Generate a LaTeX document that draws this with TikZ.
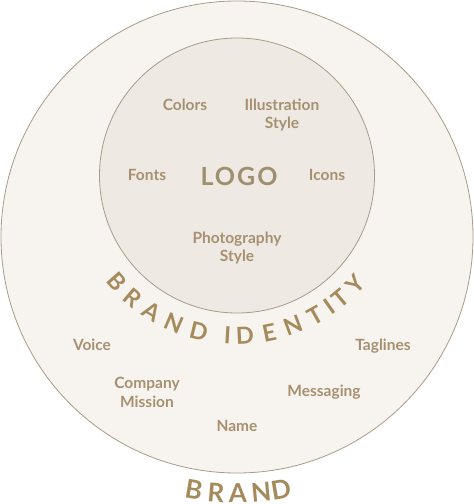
\documentclass[tikz,border=0pt]{standalone}
\usepackage{fontspec}
\setmainfont{Lato}
\usetikzlibrary{calc}
\definecolor{outerfill}{HTML}{F7F4EF}
\definecolor{innerfill}{HTML}{EEEAE3}
\definecolor{ring}{HTML}{A89B87}
\definecolor{labelc}{HTML}{A69070}
\definecolor{logoc}{HTML}{9E8F6E}
\definecolor{arcc}{HTML}{A58B5C}
\begin{document}
\begin{tikzpicture}[x=1pt,y=1pt,
  lbl/.style={text=labelc, font=\fontsize{15.5}{18.5}\selectfont\bfseries, inner sep=0pt, align=center, anchor=base},
  arcl/.style={text=arcc, font=\fontsize{23.5}{24}\selectfont\bfseries, inner sep=0pt, text height=16.8pt, text depth=0pt, anchor=center},
  brandl/.style={text=arcc, font=\fontsize{26}{26}\selectfont\bfseries, inner sep=0pt, text height=18.6pt, text depth=0pt, anchor=center},
  ringc/.style={circle, draw=ring, line width=0.8pt, inner sep=0pt}]
\useasboundingbox (0,0) rectangle (474,-504);
\fill[white] (0,0) rectangle (474,-504);
\coordinate (oc) at (237,-237);
\coordinate (ic) at (237,-175.5);
\node[ringc, fill=outerfill, minimum size=472pt] (outer) at (oc) {};
\node[ringc, fill=innerfill, minimum size=275pt] (inner) at (ic) {};
% inner labels (multi-line nodes: base = last line)
\node[lbl] (colors) at (185,-110) {Colors};
\node[lbl] (illus) at (282,-128.5) {Illustration\\Style};
\node[lbl] (fonts) at (147,-180) {Fonts};
\node[lbl] (icons) at (327,-180) {Icons};
\node[lbl] (photo) at (237,-261.8) {Photography\\Style};
\node[text=logoc, font=\fontsize{25}{25}\selectfont\bfseries\addfontfeature{LetterSpace=8}, inner sep=0pt, anchor=base] (logo) at (239,-185) {LOGO};
% outer labels
\node[lbl] (voice) at (92,-350) {Voice};
\node[lbl] (tag) at (383,-350) {Taglines};
\node[lbl] (mission) at (147,-407) {Company\\Mission};
\node[lbl] (msg) at (324,-396) {Messaging};
\node[lbl] (name) at (237,-431) {Name};
% curved BRAND IDENTITY
\foreach \l/\a [count=\i] in {B/221.6, R/229.6, A/238.0, N/246.8, D/256.2, I/266.6, D/272.8, E/281.6, N/290.4, T/299.2, I/305.0, T/310.0, Y/317.6}
  \node[arcl, rotate=\a+90] (bi\i) at ($(ic)+(\a:160.5)$) {\l};
% curved BRAND
\foreach \l/\a [count=\i] in {B/260.3, R/265.3, A/270.2, N/275.4, D/279.9}
  \node[brandl, rotate=\a+90] (br\i) at ($(oc)+(\a:256.5)$) {\l};
\end{tikzpicture}
\end{document}
